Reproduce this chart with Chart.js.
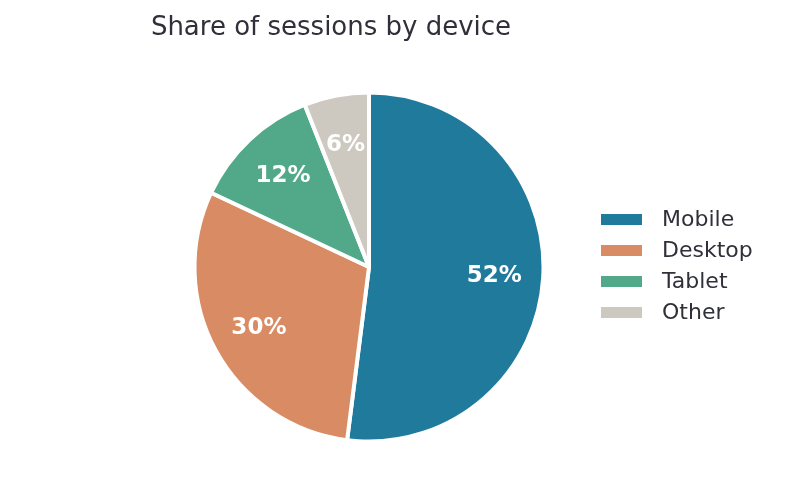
<!DOCTYPE html>
<html>
<head>
<meta charset="utf-8">
<script src="https://cdn.jsdelivr.net/npm/chart.js@4.4.1/dist/chart.umd.min.js"></script>
<style>
  html, body { margin: 0; padding: 0; background: #fff; }
  #wrap { width: 799px; height: 501px; position: relative; }
</style>
</head>
<body>
<div id="wrap"><canvas id="pie"></canvas></div>
<script>
const devices = ['Mobile', 'Desktop', 'Tablet', 'Other'];
const shares = [52, 30, 12, 6];
const colors = ['#1f7a9c', '#d98b63', '#52a98a', '#cdc9c0'];
const chartTitle = 'Share of sessions by device';

const FONT = '"DejaVu Sans", sans-serif';
const TEXT_COLOR = '#30303a';

// percent labels inside each slice
const sliceLabels = {
  id: 'sliceLabels',
  afterDatasetsDraw(chart) {
    const ctx = chart.ctx;
    const meta = chart.getDatasetMeta(0);
    ctx.save();
    ctx.fillStyle = '#fff';
    ctx.font = `bold 23px ${FONT}`;
    ctx.textAlign = 'center';
    ctx.textBaseline = 'middle';
    meta.data.forEach((arc, i) => {
      const { x, y, startAngle, endAngle, outerRadius } = arc.getProps(['x', 'y', 'startAngle', 'endAngle', 'outerRadius'], true);
      const mid = (startAngle + endAngle) / 2;
      const r = outerRadius * 0.72;
      ctx.fillText(`${shares[i]}%`, x + Math.cos(mid) * r, y + Math.sin(mid) * r + 1);
    });
    ctx.restore();
  }
};

// title and legend placed like the reference
const decorations = {
  id: 'decorations',
  afterDraw(chart) {
    const ctx = chart.ctx;
    ctx.save();
    ctx.fillStyle = TEXT_COLOR;
    ctx.font = `26px ${FONT}`;
    ctx.textAlign = 'center';
    ctx.textBaseline = 'middle';
    ctx.fillText(chartTitle, 331, 28);

    ctx.font = `22px ${FONT}`;
    ctx.textAlign = 'left';
    devices.forEach((name, i) => {
      const cy = 219.5 + i * 31;
      ctx.fillStyle = colors[i];
      ctx.fillRect(601, cy - 5.5, 41, 11);
      ctx.fillStyle = TEXT_COLOR;
      ctx.fillText(name, 662, cy + 1);
    });
    ctx.restore();
  }
};

new Chart(document.getElementById('pie'), {
  type: 'pie',
  data: {
    labels: devices,
    datasets: [{
      data: shares,
      backgroundColor: colors,
      borderColor: '#fff',
      borderWidth: 4,
      hoverOffset: 0
    }]
  },
  options: {
    responsive: true,
    maintainAspectRatio: false,
    animation: false,
    radius: 174.5,
    layout: { padding: { left: 0, right: 61, top: 33, bottom: 0 } },
    plugins: {
      legend: { display: false },
      title: { display: false },
      tooltip: { enabled: false }
    }
  },
  plugins: [sliceLabels, decorations]
});
</script>
</body>
</html>
